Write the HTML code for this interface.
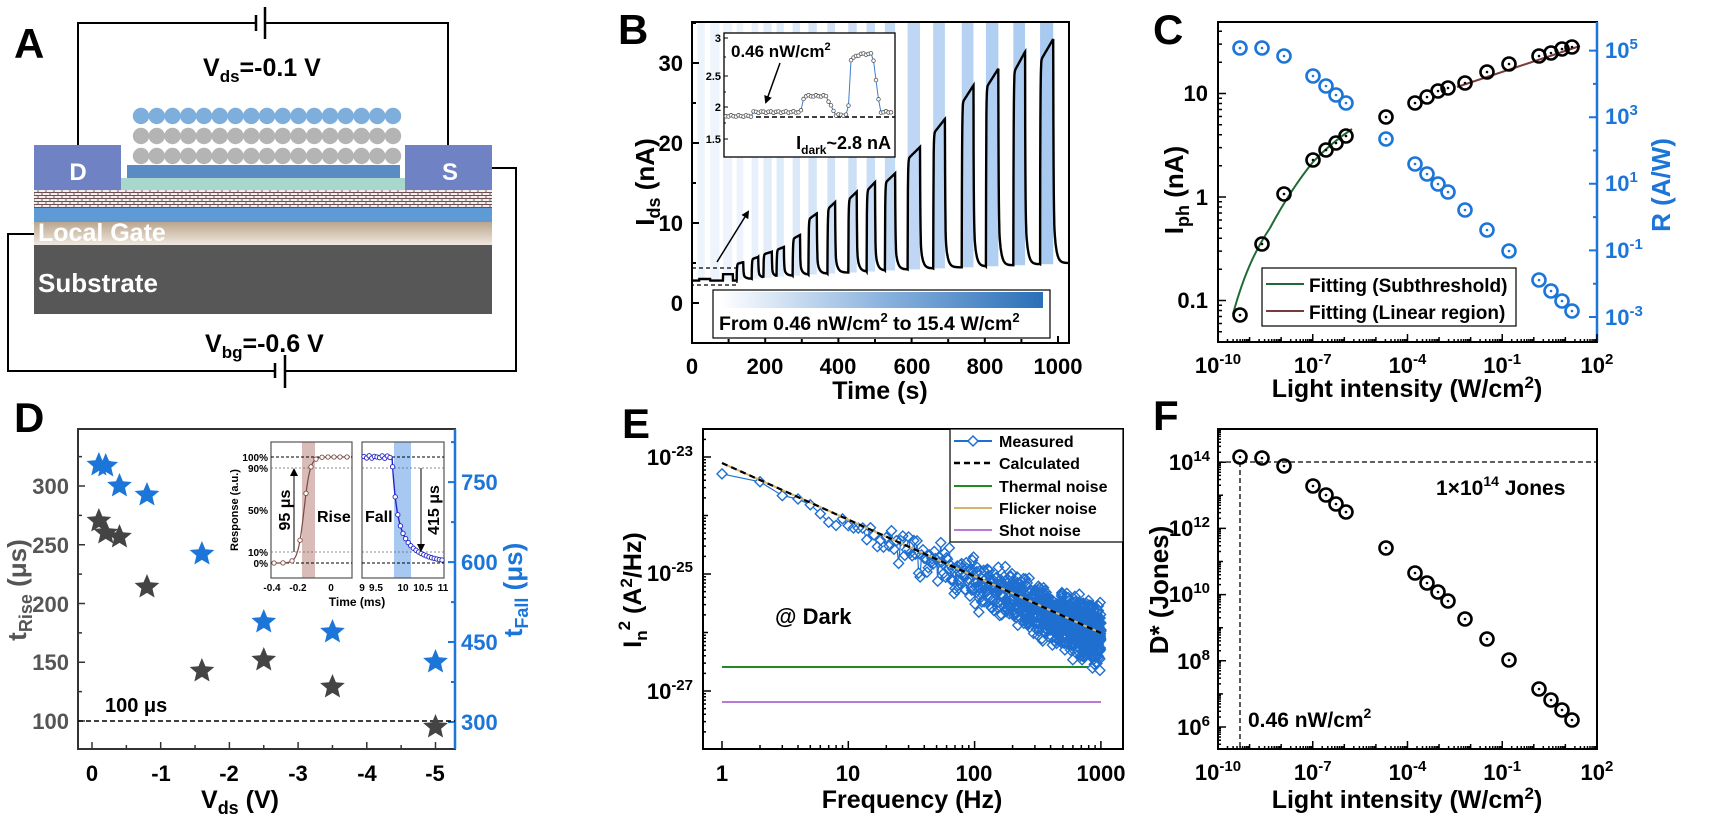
<!DOCTYPE html>
<html><head><meta charset="utf-8">
<style>
html,body{margin:0;padding:0;background:#fff;}
svg{display:block;font-family:"Liberation Sans",Arial,sans-serif;font-weight:bold;}
</style></head>
<body>
<svg id="s" width="1730" height="818" viewBox="0 0 1730 818" xmlns="http://www.w3.org/2000/svg">
<defs>
<pattern id="hatch" width="8" height="6" patternUnits="userSpaceOnUse">
<rect width="8" height="6" fill="#f3eeee"/>
<path d="M0 0.5H8M0 3.5H8M2 0.5V3.5M6 3.5V6.5" stroke="#6e4e52" stroke-width="0.9" fill="none"/>
</pattern>
<linearGradient id="lg" x1="0" y1="0" x2="0" y2="1"><stop offset="0" stop-color="#bba68d"/><stop offset="1" stop-color="#efe8de"/></linearGradient>
<linearGradient id="bg" x1="0" y1="0" x2="1" y2="0"><stop offset="0" stop-color="#ffffff"/><stop offset="0.5" stop-color="#8bb3de"/><stop offset="1" stop-color="#2a6fb8"/></linearGradient>
<marker id="ah" markerWidth="8" markerHeight="8" refX="6" refY="4" orient="auto" markerUnits="userSpaceOnUse"><path d="M0,0 L8,4 L0,8 z" fill="#000"/></marker>
</defs>

<!-- ================= A ================= -->
<text x="14" y="58" font-size="42">A</text>
<path d="M78 145V23H256M265 23H448V145" stroke="#000" stroke-width="2" fill="none"/>
<path d="M256 15V31M265 7V39" stroke="#000" stroke-width="2.5"/>
<text x="203" y="76" font-size="25">V<tspan font-size="17" dy="6">ds</tspan><tspan dy="-6">=-0.1 V</tspan></text>
<rect x="34" y="190" width="458" height="18" fill="url(#hatch)"/>
<rect x="34" y="208" width="458" height="14" fill="#5e9ad6"/>
<rect x="34" y="222" width="458" height="23" fill="url(#lg)"/>
<rect x="34" y="245" width="458" height="69" fill="#575757"/>
<rect x="121" y="178" width="284" height="12" fill="#a8d8cc"/>
<rect x="127" y="165" width="273" height="13" fill="#5b8bc3"/>
<g id="balls"></g>
<rect x="34" y="145" width="87" height="45" fill="#6f82c4"/>
<rect x="405" y="145" width="87" height="45" fill="#6f82c4"/>
<text x="78" y="180" font-size="24" fill="#fff" text-anchor="middle">D</text>
<text x="450" y="180" font-size="24" fill="#fff" text-anchor="middle">S</text>
<text x="38" y="241" font-size="25" fill="#fff">Local Gate</text>
<text x="38" y="292" font-size="26" fill="#fff">Substrate</text>
<path d="M492 168H516V371H285M275 371H8V234H34" stroke="#000" stroke-width="2" fill="none"/>
<path d="M275 363V378M285 355V388" stroke="#000" stroke-width="2.5"/>
<text x="205" y="352" font-size="25">V<tspan font-size="17" dy="6">bg</tspan><tspan dy="-6">=-0.6 V</tspan></text>

<!-- ================= B ================= -->
<text x="618" y="44" font-size="42">B</text>
<g id="bbars"></g>
<path id="bcurve" fill="none" stroke="#000" stroke-width="2.4"/>
<rect x="692" y="22" width="377" height="321" fill="none" stroke="#000" stroke-width="2"/>
<g id="bticks" stroke="#000" stroke-width="2"></g>
<g font-size="22" text-anchor="end">
<text x="683" y="311">0</text><text x="683" y="231">10</text><text x="683" y="151">20</text><text x="683" y="71">30</text>
</g>
<g font-size="22" text-anchor="middle">
<text x="692" y="374">0</text><text x="765" y="374">200</text><text x="838" y="374">400</text><text x="912" y="374">600</text><text x="985" y="374">800</text><text x="1058" y="374">1000</text>
</g>
<text x="880" y="399" font-size="25" text-anchor="middle">Time (s)</text>
<text transform="translate(654,182) rotate(-90)" font-size="26" text-anchor="middle">I<tspan font-size="18" dy="6">ds</tspan><tspan dy="-6"> (nA)</tspan></text>
<rect x="713" y="290" width="337" height="48" fill="#fff" stroke="#000" stroke-width="1.2"/>
<rect x="720" y="292" width="323" height="16" fill="url(#bg)"/>
<text x="719" y="330" font-size="19.5">From 0.46 nW/cm<tspan font-size="13" dy="-8">2</tspan><tspan dy="8"> to 15.4 W/cm</tspan><tspan font-size="13" dy="-8">2</tspan></text>
<rect x="692" y="268" width="45" height="17" fill="none" stroke="#000" stroke-width="1.3" stroke-dasharray="4,3"/>
<line x1="717" y1="262" x2="748" y2="212" stroke="#000" stroke-width="1.5" marker-end="url(#ah)"/>
<!-- inset B -->
<rect x="724" y="33" width="171" height="124" fill="#fff" stroke="#000" stroke-width="1.3"/>
<g stroke="#000" stroke-width="1">
<path d="M724 38h4M724 76h4M724 107h4M724 139h4M724 57h2M724 92h2M724 123h2"/></g>
<g font-size="11" text-anchor="end"><text x="721" y="42">3</text><text x="721" y="80">2.5</text><text x="721" y="111">2</text><text x="721" y="143">1.5</text></g>
<line x1="724" y1="117" x2="895" y2="117" stroke="#000" stroke-width="1.5" stroke-dasharray="5,3"/>
<path id="binset" fill="none" stroke="#3b7fd0" stroke-width="1"/>
<g id="binsetm"></g>
<text x="731" y="57" font-size="17">0.46 nW/cm<tspan font-size="11" dy="-7">2</tspan></text>
<line x1="780" y1="63" x2="766" y2="102" stroke="#000" stroke-width="1.5" marker-end="url(#ah)"/>
<text x="891" y="149" font-size="18" text-anchor="end">I<tspan font-size="12" dy="5">dark</tspan><tspan dy="-5">~2.8 nA</tspan></text>

<!-- ================= C ================= -->
<text x="1153" y="44" font-size="42">C</text>
<rect x="1218" y="22" width="379" height="320" fill="none" stroke="#000" stroke-width="2"/>
<line x1="1597" y1="22" x2="1597" y2="342" stroke="#1c75d8" stroke-width="2.5"/>
<g id="cticks"></g>
<path d="M1233 314 C1245 270,1258 246,1270 228 C1285 200,1300 178,1313 162 C1326 148,1340 137,1352 129" fill="none" stroke="#1e6b35" stroke-width="2"/>
<line x1="1457" y1="87" x2="1580" y2="46" stroke="#7a3b3b" stroke-width="2"/>
<g id="cpts"></g>
<g font-size="22" text-anchor="end"><text x="1208" y="101">10</text><text x="1208" y="205">1</text><text x="1208" y="308">0.1</text></g>
<g font-size="22" fill="#1c75d8"><text x="1605" y="58">10<tspan font-size="15" dy="-9">5</tspan></text><text x="1605" y="124">10<tspan font-size="15" dy="-9">3</tspan></text><text x="1605" y="191">10<tspan font-size="15" dy="-9">1</tspan></text><text x="1605" y="258">10<tspan font-size="15" dy="-9">-1</tspan></text><text x="1605" y="325">10<tspan font-size="15" dy="-9">-3</tspan></text></g>
<g id="cxl" font-size="22" text-anchor="middle"></g>
<text x="1407" y="397" font-size="25" text-anchor="middle">Light intensity (W/cm<tspan font-size="17" dy="-9">2</tspan><tspan dy="9">)</tspan></text>
<text transform="translate(1183,190) rotate(-90)" font-size="26" text-anchor="middle">I<tspan font-size="18" dy="6">ph</tspan><tspan dy="-6"> (nA)</tspan></text>
<text transform="translate(1670,185) rotate(-90)" font-size="26" text-anchor="middle" fill="#1c75d8">R (A/W)</text>
<rect x="1262" y="268" width="254" height="58" fill="#fff" stroke="#000" stroke-width="1.2"/>
<line x1="1266" y1="284" x2="1304" y2="284" stroke="#1e6b35" stroke-width="2"/>
<line x1="1266" y1="311" x2="1304" y2="311" stroke="#7a3b3b" stroke-width="2"/>
<text x="1309" y="292" font-size="19">Fitting (Subthreshold)</text>
<text x="1309" y="319" font-size="19">Fitting (Linear region)</text>

<!-- ================= D ================= -->
<text x="14" y="432" font-size="42">D</text>
<rect x="78" y="429" width="377" height="320" fill="none" stroke="#333" stroke-width="2"/>
<line x1="455" y1="429" x2="455" y2="749" stroke="#1c75d8" stroke-width="2.5"/>
<g id="dticks"></g>
<line x1="78" y1="721" x2="455" y2="721" stroke="#000" stroke-width="1.5" stroke-dasharray="5,3"/>
<text x="105" y="712" font-size="20">100 μs</text>
<g id="dstars"></g>
<g font-size="22" text-anchor="end" fill="#555"><text x="69" y="494">300</text><text x="69" y="553">250</text><text x="69" y="612">200</text><text x="69" y="670">150</text><text x="69" y="729">100</text></g>
<g font-size="22" fill="#1c75d8"><text x="461" y="490">750</text><text x="461" y="570">600</text><text x="461" y="650">450</text><text x="461" y="730">300</text></g>
<g font-size="22" text-anchor="middle"><text x="92" y="781">0</text><text x="161" y="781">-1</text><text x="229" y="781">-2</text><text x="298" y="781">-3</text><text x="367" y="781">-4</text><text x="435" y="781">-5</text></g>
<text x="240" y="808" font-size="25" text-anchor="middle">V<tspan font-size="18" dy="6">ds</tspan><tspan dy="-6"> (V)</tspan></text>
<text transform="translate(26,590) rotate(-90)" font-size="26" text-anchor="middle" fill="#555">t<tspan font-size="18" dy="6">Rise</tspan><tspan dy="-6"> (μs)</tspan></text>
<text transform="translate(522,590) rotate(-90)" font-size="26" text-anchor="middle" fill="#1c75d8">t<tspan font-size="18" dy="6">Fall</tspan><tspan dy="-6"> (μs)</tspan></text>
<!-- inset D -->
<rect x="302" y="442" width="13" height="136" fill="#d9bcb8"/>
<rect x="394" y="442" width="17" height="136" fill="#a7c8f0"/>
<rect x="271" y="442" width="81" height="136" fill="none" stroke="#555" stroke-width="1.2"/>
<rect x="362" y="442" width="82" height="136" fill="none" stroke="#555" stroke-width="1.2"/>
<g stroke="#000" stroke-width="1" stroke-dasharray="3,2">
<path d="M271 457H352M362 457H444M271 563H352M362 563H444"/></g>
<g stroke="#666" stroke-width="0.8" stroke-dasharray="2,2">
<path d="M271 468H352M362 468H444M271 552H352M362 552H444"/></g>
<path id="drise" fill="none" stroke="#7a4a45" stroke-width="1.2"/>
<path id="dfall" fill="none" stroke="#2222cc" stroke-width="1.4"/>
<g id="dinm"></g>
<g font-size="10" text-anchor="end"><text x="268" y="461">100%</text><text x="268" y="472">90%</text><text x="268" y="514">50%</text><text x="268" y="556">10%</text><text x="268" y="567">0%</text></g>
<g font-size="10" text-anchor="middle"><text x="272" y="591">-0.4</text><text x="298" y="591">-0.2</text><text x="331" y="591">0</text><text x="362" y="591">9</text><text x="376" y="591">9.5</text><text x="403" y="591">10</text><text x="423" y="591">10.5</text><text x="443" y="591">11</text></g>
<text x="357" y="606" font-size="12" text-anchor="middle">Time (ms)</text>
<text transform="translate(238,510) rotate(-90)" font-size="11" text-anchor="middle">Response (a.u.)</text>
<line x1="294" y1="552" x2="294" y2="470" stroke="#000" stroke-width="1" marker-end="url(#ah)"/>
<text transform="translate(290,510) rotate(-90)" font-size="16" text-anchor="middle">95 μs</text>
<text x="317" y="522" font-size="16">Rise</text>
<text x="365" y="522" font-size="16">Fall</text>
<line x1="421" y1="468" x2="421" y2="550" stroke="#000" stroke-width="1" marker-end="url(#ah)"/>
<text transform="translate(439,510) rotate(-90)" font-size="16" text-anchor="middle">415 μs</text>

<!-- ================= E ================= -->
<text x="622" y="438" font-size="42">E</text>
<line x1="722" y1="667" x2="1101" y2="667" stroke="#218a21" stroke-width="2"/>
<line x1="722" y1="702" x2="1101" y2="702" stroke="#b57bd6" stroke-width="2"/>
<g id="escat"></g>
<line x1="722" y1="463" x2="1101" y2="633" stroke="#d4b46a" stroke-width="2"/>
<line x1="722" y1="463" x2="1101" y2="633" stroke="#000" stroke-width="2.2" stroke-dasharray="6,4"/>
<rect x="703" y="429" width="420" height="320" fill="none" stroke="#000" stroke-width="2"/>
<g id="eticks"></g>
<g font-size="22" text-anchor="end"><text x="693" y="465">10<tspan font-size="15" dy="-9">-23</tspan></text><text x="693" y="581">10<tspan font-size="15" dy="-9">-25</tspan></text><text x="693" y="699">10<tspan font-size="15" dy="-9">-27</tspan></text></g>
<g font-size="22" text-anchor="middle"><text x="722" y="781">1</text><text x="848" y="781">10</text><text x="974" y="781">100</text><text x="1101" y="781">1000</text></g>
<text x="912" y="808" font-size="25" text-anchor="middle">Frequency (Hz)</text>
<text transform="translate(641,590) rotate(-90)" font-size="25" text-anchor="middle">I<tspan font-size="17" dy="6">n</tspan><tspan font-size="17" dy="-17">2</tspan><tspan dy="11"> (A</tspan><tspan font-size="17" dy="-9">2</tspan><tspan dy="9">/Hz)</tspan></text>
<text x="775" y="624" font-size="22">@ Dark</text>
<rect x="950" y="429" width="173" height="113" fill="#fff" stroke="#000" stroke-width="1.2"/>
<line x1="954" y1="441" x2="992" y2="441" stroke="#1f6fd1" stroke-width="2"/>
<path d="M973 436L978 441L973 446L968 441Z" fill="#fff" stroke="#1f6fd1" stroke-width="1.5"/>
<line x1="954" y1="463" x2="992" y2="463" stroke="#000" stroke-width="2.5" stroke-dasharray="6,4"/>
<line x1="954" y1="486" x2="992" y2="486" stroke="#218a21" stroke-width="2"/>
<line x1="954" y1="508" x2="992" y2="508" stroke="#d4b46a" stroke-width="2"/>
<line x1="954" y1="530" x2="992" y2="530" stroke="#b57bd6" stroke-width="2"/>
<g font-size="16"><text x="999" y="447">Measured</text><text x="999" y="469">Calculated</text><text x="999" y="492">Thermal noise</text><text x="999" y="514">Flicker noise</text><text x="999" y="536">Shot noise</text></g>

<!-- ================= F ================= -->
<text x="1153" y="430" font-size="42">F</text>
<rect x="1218" y="429" width="379" height="320" fill="none" stroke="#000" stroke-width="2"/>
<g id="fticks"></g>
<line x1="1218" y1="462" x2="1597" y2="462" stroke="#000" stroke-width="1.3" stroke-dasharray="5,3"/>
<line x1="1240" y1="462" x2="1240" y2="749" stroke="#000" stroke-width="1.3" stroke-dasharray="5,3"/>
<g id="fpts"></g>
<g font-size="22" text-anchor="end"><text x="1210" y="470">10<tspan font-size="15" dy="-9">14</tspan></text><text x="1210" y="536">10<tspan font-size="15" dy="-9">12</tspan></text><text x="1210" y="602">10<tspan font-size="15" dy="-9">10</tspan></text><text x="1210" y="669">10<tspan font-size="15" dy="-9">8</tspan></text><text x="1210" y="735">10<tspan font-size="15" dy="-9">6</tspan></text></g>
<g id="fxl" font-size="22" text-anchor="middle"></g>
<text x="1407" y="808" font-size="25" text-anchor="middle">Light intensity (W/cm<tspan font-size="17" dy="-9">2</tspan><tspan dy="9">)</tspan></text>
<text transform="translate(1168,590) rotate(-90)" font-size="26" text-anchor="middle">D* (Jones)</text>
<text x="1436" y="495" font-size="21">1×10<tspan font-size="14" dy="-9">14</tspan><tspan dy="9"> Jones</tspan></text>
<text x="1248" y="727" font-size="21">0.46 nW/cm<tspan font-size="14" dy="-9">2</tspan></text>
</svg>
<script>
var NS="http://www.w3.org/2000/svg";
function el(p,tag,a){var e=document.createElementNS(NS,tag);for(var k in a)e.setAttribute(k,a[k]);document.getElementById(p).appendChild(e);return e;}
for(var r=0;r<3;r++)for(var i=0;i<17;i++){el("balls","circle",{cx:141+i*15.75,cy:[116,136,156][r],r:8.2,fill:r==0?"#7eaedb":"#b4b4b4"});}
var pul=[[122,140,5.1],[163,181,5.75],[195,218,6.4],[231,251,7],[275,295,8.5],[318,341,11.2],[370,391,12.6],[427,450,13.9],[477,500,15.1],[527,555,16.2],[589,623,19.5],[659,691,23],[737,769,27.2],[803,837,29.3],[878,910,31.4],[951,987,33]];
function X(t){return 692+0.366*t;} function Y(v){return 303-8*v;}
var faint=[[15,35],[50,75],[85,110]];
faint.forEach(function(f,i){el("bbars","rect",{x:X(f[0]),y:22,width:X(f[1])-X(f[0]),height:Y(2.8)-22,fill:"#eef4fc"});});
pul.forEach(function(p,i){var c=i/15;var r=Math.round(236-c*(236-168)),g=Math.round(243-c*(243-201)),b=Math.round(252-c*(252-240));
 var base=2.9+i*0.13;el("bbars","rect",{x:X(p[0]),y:22,width:X(p[1])-X(p[0]),height:Y(base)-22,fill:"rgb("+r+","+g+","+b+")"});});
var d="",v=2.8;
function base(i){return 2.9+i*0.13;}
for(var t=0;t<=1030;t+=0.5){
 var val;
 if(t<122){val=2.8;if(t>=20&&t<50)val=3.0;if(t>=85&&t<112)val=3.6;}
 else{
  var k=-1;for(var j=0;j<pul.length;j++){if(t>=pul[j][0])k=j;}
  var p=pul[k],b=base(k),bn=(k<15?base(k+1):5.0);
  if(t<p[1]){var s=t-p[0];val=b+(p[2]-b)*(0.9*(1-Math.exp(-s/0.8))+0.1*(s/(p[1]-p[0])));}
  else{var s=t-p[1];val=bn+(p[2]-bn)*(0.75*Math.exp(-s/0.8)+0.25*Math.exp(-s/6));}
 }
 d+=(t==0?"M":"L")+X(t).toFixed(1)+" "+Y(val).toFixed(1);
}
document.getElementById("bcurve").setAttribute("d",d);
var bt="";for(var t=0;t<=1000;t+=100){bt+="M"+X(t)+" 343v"+(t%200==0?-7:-4);}
for(var v=-5;v<=35;v+=5){bt+="M692 "+Y(v)+"h"+(v%10==0?7:4);}
el("bticks","path",{d:bt,fill:"none"});
var ip=[];for(var x=726;x<=893;x+=2.5){var y=116;
 if(x>752&&x<800)y=112;
 if(x>=800&&x<826)y=96+ (x<804?(804-x)*5:0);
 if(x>=826&&x<836)y=96+(x-826)*2;
 if(x>=836&&x<848)y=115;
 if(x>=848&&x<873)y=54+(x<851?(851-x)*18:0)+(x<860?(860-x)*0.6:0);
 if(x>=873)y=Math.min(117,112+ (x<880?-(880-x)*8:0));
 y+=Math.sin(x*1.7)*0.8;ip.push([x,Math.min(y,118)]);}
document.getElementById("binset").setAttribute("d","M"+ip.map(function(q){return q[0]+" "+q[1];}).join("L"));
ip.forEach(function(q){el("binsetm","circle",{cx:q[0],cy:q[1],r:1.8,fill:"#fff",stroke:"#555","stroke-width":0.8});});
function logTicks(id,x0,y0,y1,xl){var s="";for(var dcd=-10;dcd<=2;dcd++){var x=x0+31.58*(dcd+10);s+="M"+x+" "+y1+"v"+((dcd==-10||dcd==-7||dcd==-4||dcd==-1||dcd==2)?-8:-5);
 if(dcd<2)for(var m=2;m<10;m++){var xx=x+31.58*Math.log10(m);s+="M"+xx.toFixed(1)+" "+y1+"v-3";}}
 el(id,"path",{d:s,stroke:"#000","stroke-width":1.5,fill:"none"});
 var labs=[[-10,"-10"],[-7,"-7"],[-4,"-4"],[-1,"-1"],[2,"2"]];
 labs.forEach(function(l){var t=el(xl,"text",{x:x0+31.58*(l[0]+10),y:y1+31});t.innerHTML='10<tspan font-size="15" dy="-9">'+l[1]+'</tspan>';});}
logTicks("cticks",1218,22,342,"cxl");logTicks("fticks",1218,429,749,"fxl");
var s="";for(var dd=-2;dd<=2;dd++){var yb=197-103.5*(dd);for(var m=1;m<10;m++){var y=yb-103.5*Math.log10(m);if(y>22&&y<342)s+="M1218 "+y.toFixed(1)+"h"+(m==1?8:4);}}
el("cticks","path",{d:s,stroke:"#000","stroke-width":1.5,fill:"none"});
s="";for(var dd=-4;dd<=6;dd++){var y=317-33.3*(dd+3);if(y>22&&y<342)s+="M1597 "+y.toFixed(1)+"h"+(dd%2!=0?-8:-4);}
el("cticks","path",{d:s,stroke:"#1c75d8","stroke-width":2,fill:"none"});
var cx=[1240,1262,1284,1313,1326,1336,1346,1386,1415,1427,1438,1448,1465,1487,1509,1539,1551,1562,1572];
var cb=[315,244,194,160,150,143,136,117,103,97,91,88,83,72,64,56,53,49,47];
var cr=[48,48,56,76,86,95,103,139,164,174,184,192,210,230,251,280,291,301,311];
var fy=[457,458,466,486,495,504,512,548,573,583,592,601,619,639,660,689,700,710,720];
function oc(id,x,y,c){el(id,"circle",{cx:x,cy:y,r:6.5,fill:"none",stroke:c,"stroke-width":2.6});el(id,"circle",{cx:x,cy:y,r:1.3,fill:c});}
for(var i=0;i<19;i++){oc("cpts",cx[i],cr[i],"#1c75d8");oc("cpts",cx[i],cb[i],"#000");oc("fpts",cx[i],fy[i],"#000");}
s="";for(var e=5;e<=15;e++){var y=727-33.1*(e-6);if(y>429&&y<749)s+="M1218 "+y.toFixed(1)+"h"+(e%2==0?8:5);for(var m=2;m<10;m++){var yy=y-33.1*Math.log10(m);if(yy>429&&yy<749)s+="M1218 "+yy.toFixed(1)+"h3";}}
el("fticks","path",{d:s,stroke:"#000","stroke-width":1.5,fill:"none"});
s="";for(var v=0;v<=5;v+=0.5){s+="M"+(92+68.7*v)+" 749v"+(v%1==0?-7:-4);}
for(var u=100;u<=350;u+=25){var y=721-1.175*(u-100);if(y>429)s+="M78 "+y+"h"+(u%50==0?7:4);}
el("dticks","path",{d:s,stroke:"#333","stroke-width":1.5,fill:"none"});
s="";for(var u=300;u<=825;u+=75){var y=722-0.533*(u-300);if(y>429)s+="M455 "+y+"h"+(u%150==0?-7:-4);}
el("dticks","path",{d:s,stroke:"#1c75d8","stroke-width":2,fill:"none"});
function star(x,y,R,c){var p=[];for(var i=0;i<10;i++){var rr=i%2?R*0.45:R,a=-Math.PI/2+i*Math.PI/5;p.push((x+rr*Math.cos(a)).toFixed(1)+","+(y+rr*Math.sin(a)).toFixed(1));}el("dstars","polygon",{points:p.join(" "),fill:c});}
var dv=[0.1,0.2,0.4,0.8,1.6,2.5,3.5,5];var dg=[521,533,537,587,671,660,687,727];var dbl=[465,466,486,495,554,622,632,662];
for(var i=0;i<8;i++){var x=92+68.7*dv[i];star(x,dbl[i],13,"#1c75d8");star(x,dg[i],13,"#444");}
var rp=[],fp=[];
for(var x=273;x<=350;x+=1){var tt=(x-304)/4;var y=563-106/(1+Math.exp(-tt*1.3));rp.push([x,y]);}
document.getElementById("drise").setAttribute("d","M"+rp.map(function(q){return q[0]+" "+q[1].toFixed(1);}).join("L"));
[274,283,292,300,306,311,316,322,328,334,340,347].forEach(function(x){var tt=(x-304)/4;el("dinm","circle",{cx:x,cy:(563-106/(1+Math.exp(-tt*1.3))).toFixed(1),r:2.2,fill:"#fff",stroke:"#7a4a45","stroke-width":0.9});});
for(var x=364;x<=444;x+=1){var y=x<392?457:563-106*(0.55*Math.exp(-(x-392)/4)+0.45*Math.exp(-(x-392)/18));fp.push([x,y]);}
document.getElementById("dfall").setAttribute("d","M"+fp.map(function(q){return q[0]+" "+q[1].toFixed(1);}).join("L"));
for(var x=364;x<=444;x+=2.6){var y=x<392?457+Math.sin(x)*1.2:563-106*(0.55*Math.exp(-(x-392)/4)+0.45*Math.exp(-(x-392)/18));el("dinm","circle",{cx:x.toFixed(1),cy:y.toFixed(1),r:2.2,fill:"#fff",stroke:"#2222cc","stroke-width":0.9});}
s="";for(var dd=0;dd<=3;dd++){var x=722+126.3*dd;s+="M"+x+" 749v-8";if(dd<3)for(var m=2;m<10;m++)s+="M"+(x+126.3*Math.log10(m)).toFixed(1)+" 749v-4";}
for(var e=-28;e<=-22;e++){var y=457-58.5*(e+23);for(var m=1;m<10;m++){var yy=y-58.5*Math.log10(m);if(yy>429&&yy<749)s+="M703 "+yy.toFixed(1)+"h"+(m==1?(e%2!=0?8:5):3);}}
el("eticks","path",{d:s,stroke:"#000","stroke-width":1.5,fill:"none"});
var seed=7;function rnd(){seed=(seed*16807)%2147483647;return seed/2147483647;}
var pts=[];for(var f=1;f<=1000;f++){var lf=Math.log10(f);var x=722+126.3*lf;var yc=463+56.7*lf;var amp=3+lf*6;var n=(rnd()+rnd()+rnd()-1.5)*amp*1.3;if(rnd()<0.04)n+=(rnd()-0.4)*30;var y=yc+n+ (f==1?12:0)+(lf>1?4:lf*4);pts.push([x,y]);}
el("escat","path",{d:"M"+pts.map(function(q){return q[0].toFixed(1)+" "+q[1].toFixed(1);}).join("L"),fill:"none",stroke:"#1f6fd1","stroke-width":1.2});
var dm="";pts.forEach(function(q){var x=q[0],y=q[1];dm+="M"+(x).toFixed(1)+" "+(y-5).toFixed(1)+"l5 5l-5 5l-5 -5z";});
el("escat","path",{d:dm,fill:"#fff",stroke:"#1f6fd1","stroke-width":1.4});
</script>
</body></html>
